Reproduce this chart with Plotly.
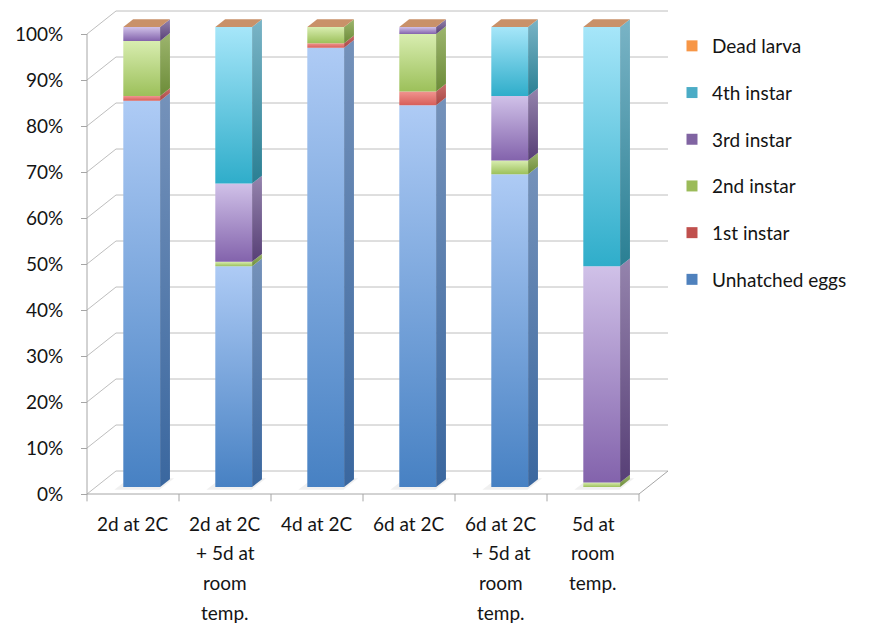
import plotly.graph_objects as go

# ---- data -------------------------------------------------------------
categories = [
    "2d at 2C",
    "2d at 2C<br>+ 5d at<br>room<br>temp.",
    "4d at 2C",
    "6d at 2C",
    "6d at 2C<br>+ 5d at<br>room<br>temp.",
    "5d at<br>room<br>temp.",
]
series_names = ["Unhatched eggs", "1st instar", "2nd instar", "3rd instar", "4th instar", "Dead larva"]
unhatched = [84, 48, 95.5, 83, 68, 0]
instar1 = [1, 0, 1, 3, 0, 0]
instar2 = [12, 1, 3.5, 12.5, 3, 1]
instar3 = [3, 17, 0, 1.5, 14, 47]
instar4 = [0, 34, 0, 0, 15, 52]
dead = [0, 0, 0, 0, 0, 0]
series_values = [unhatched, instar1, instar2, instar3, instar4, dead]
y_ticks = [0, 10, 20, 30, 40, 50, 60, 70, 80, 90, 100]
y_tick_labels = [f"{v}%" for v in y_ticks]

# ---- styling ----------------------------------------------------------
# (front bottom, front top, side bottom, side top, legend swatch)
palette = {
    "Unhatched eggs": ("#4781C3", "#AECBF5", "#3A679F", "#7592BA", "#4F81BD"),
    "1st instar": ("#D75E5A", "#F0948F", "#A84744", "#C96E6B", "#C0504D"),
    "2nd instar": ("#9CC05A", "#D8EDB0", "#6C8C38", "#9DB56E", "#9BBB59"),
    "3rd instar": ("#8363AC", "#D0C1E8", "#573F76", "#9584AD", "#8064A2"),
    "4th instar": ("#2FADCA", "#A6E6F9", "#2A7F93", "#7AB4C6", "#4BACC6"),
    "Dead larva": ("#F79646", "#F9B27A", "#C47A3C", "#D99A68", "#F79646"),
}
top_face_color = "#C99169"
grid_color = "#BEBEBE"
axis_color = "#A6A6A6"
font_family = "Lato, 'Open Sans', sans-serif"
text_color = "#141414"

W, H = 872, 624
PX_U = 92.0          # pixels per category unit on the front floor edge
PX_V = 4.6           # pixels per percentage point
ORIGIN_X, ORIGIN_Y = 87.0, 494.0
DEPTH_U = 29.0 / PX_U    # full wall depth in category units
DEPTH_V = 23.0 / PX_V    # full wall depth in percentage units
BAR_W = 0.40
BAR_D0, BAR_D1 = 0.30, 0.64


def proj(u, v, d):
    """Oblique projection: category position u, value v, depth d (0 front .. 1 back)."""
    return u + d * DEPTH_U, v + d * DEPTH_V


fig = go.Figure()


def poly(points, fill, gradient=None):
    xs = [p[0] for p in points] + [points[0][0]]
    ys = [p[1] for p in points] + [points[0][1]]
    kw = dict(x=xs, y=ys, mode="lines", fill="toself", line=dict(width=0),
              hoverinfo="skip", showlegend=False)
    if gradient is not None:
        kw["fillgradient"] = dict(type="vertical", colorscale=[[0, gradient[0]], [1, gradient[1]]])
        kw["fillcolor"] = gradient[0]
    else:
        kw["fillcolor"] = fill
    fig.add_trace(go.Scatter(**kw))


def seg(points, color, width=1):
    fig.add_trace(go.Scatter(x=[p[0] for p in points], y=[p[1] for p in points], mode="lines",
                             line=dict(color=color, width=width), hoverinfo="skip", showlegend=False))


n = len(categories)

# back wall gridlines and left-wall diagonals
for v in y_ticks:
    seg([proj(0, v, 0), proj(0, v, 1), proj(n, v, 1)], grid_color)

# floor outline, front axis and category ticks
seg([proj(0, 0, 0), proj(n, 0, 0), proj(n, 0, 1)], axis_color)
seg([proj(0, 0, 0), proj(0, 100, 0)], axis_color)
for k in range(n + 1):
    x0, y0 = proj(k, 0, 0)
    seg([(x0, y0), (x0, y0 - 1.6)], axis_color)

# soft floor shadows under the bars
for i in range(n):
    uc = i + 0.5
    xa, xb = uc - BAR_W / 2 - 0.06, uc + BAR_W / 2 + 0.03
    pts = [proj(xa, 0, BAR_D0 - 0.12), proj(xb, 0, BAR_D0 - 0.12),
           proj(xb, 0, BAR_D1 + 0.05), proj(xa, 0, BAR_D1 + 0.05)]
    poly(pts, "rgba(0,0,0,0.06)")

# stacked 3D bars
for i in range(n):
    uc = i + 0.5
    xl, xr = uc - BAR_W / 2, uc + BAR_W / 2
    base = 0.0
    for name, vals in zip(series_names, series_values):
        val = vals[i]
        c_fb, c_ft, c_sb, c_st, _ = palette[name]
        top = base + val
        if val > 0:
            front = [proj(xl, base, BAR_D0), proj(xr, base, BAR_D0),
                     proj(xr, top, BAR_D0), proj(xl, top, BAR_D0)]
            poly(front, c_fb, (c_fb, c_ft))
            side = [proj(xr, base, BAR_D0), proj(xr, base, BAR_D1),
                    proj(xr, top, BAR_D1), proj(xr, top, BAR_D0)]
            poly(side, c_sb, (c_sb, c_st))
        base = top
    # top cap belongs to the last series of the stack
    cap = [proj(xl, base, BAR_D0), proj(xr, base, BAR_D0),
           proj(xr, base, BAR_D1), proj(xl, base, BAR_D1)]
    poly(cap, top_face_color)

# legend entries (top-down order: last series first)
for name in reversed(series_names):
    fig.add_trace(go.Scatter(x=[None], y=[None], mode="markers", name=name, legendgroup=name,
                             marker=dict(symbol="square", size=11, color=palette[name][4]),
                             hoverinfo="skip"))

# category labels, one line at a time for the wide line spacing
annotations = []
for i, cat in enumerate(categories):
    for k, line in enumerate(cat.split("<br>")):
        py = 523 + 29.7 * k
        annotations.append(dict(x=i + 0.5, y=(ORIGIN_Y - py) / PX_V, xref="x", yref="y",
                                text=line, showarrow=False, xanchor="center", yanchor="middle",
                                font=dict(family=font_family, size=19, color=text_color)))

fig.update_layout(
    width=W, height=H,
    margin=dict(l=0, r=0, t=0, b=0),
    paper_bgcolor="white", plot_bgcolor="white",
    annotations=annotations,
    showlegend=True,
    legend=dict(x=672 / W, y=1 - 27 / H, xanchor="left", yanchor="top",
                traceorder="grouped", tracegroupgap=19,
                font=dict(family=font_family, size=19, color=text_color),
                bgcolor="rgba(0,0,0,0)"),
    xaxis=dict(range=[-ORIGIN_X / PX_U, (W - ORIGIN_X) / PX_U], visible=False, domain=[0, 1]),
    yaxis=dict(range=[(ORIGIN_Y - H) / PX_V, ORIGIN_Y / PX_V],
               anchor="free", position=ORIGIN_X / W,
               tickvals=y_ticks, ticktext=y_tick_labels,
               ticks="outside", ticklen=6, tickcolor=axis_color,
               showgrid=False, zeroline=False, showline=False,
               ticklabelstandoff=14,
               tickfont=dict(family=font_family, size=19, color=text_color)),
)

fig.write_html("out.html")
